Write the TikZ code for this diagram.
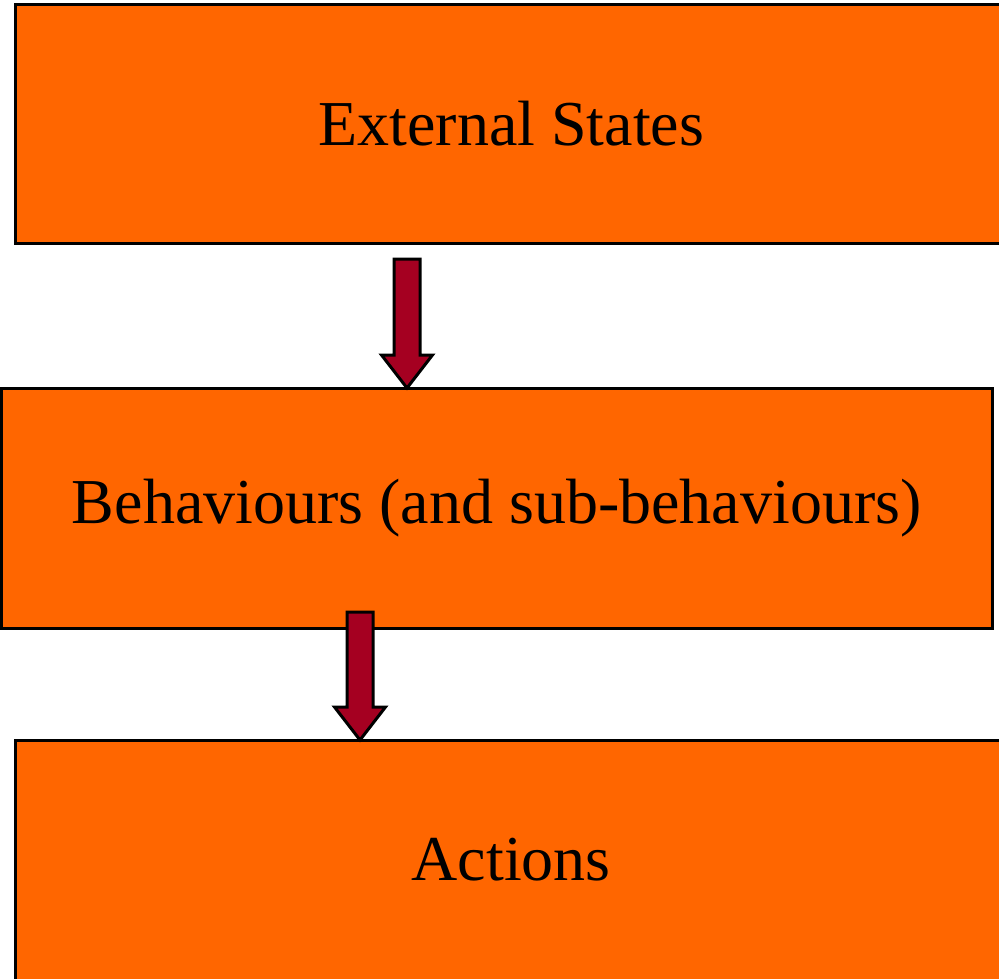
\documentclass[tikz,border=0pt]{standalone}
\usepackage{fontspec}
\setmainfont{Liberation Serif}
\usetikzlibrary{calc}
\definecolor{boxorange}{HTML}{FF6600}
\definecolor{arrowred}{HTML}{A50021}
\begin{document}
\begin{tikzpicture}[x=1pt,y=1pt,
  stagebox/.style={draw=black, fill=boxorange, line width=3pt, outer sep=0pt,
    inner sep=0pt, anchor=north west, font=\fontsize{64}{72}\selectfont},
  blockarrow/.style={draw=black, fill=arrowred, line width=3pt, line join=miter,
    to path={
      ($(\tikztostart)+(-13,0)$) -- ($(\tikztostart)+(13,0)$)
      -- ($(\tikztotarget)+(13,33)$) -- ($(\tikztotarget)+(25.5,33)$)
      -- (\tikztotarget) -- ($(\tikztotarget)+(-25.5,33)$)
      -- ($(\tikztotarget)+(-13,33)$) -- cycle}}]
\useasboundingbox (0,0) rectangle (999,-978);
\clip (0,0) rectangle (999,-978);

% the three stages
\node[stagebox, minimum width=991.5, minimum height=239] (ext) at (15.5,-4) {External States};
\node[stagebox, minimum width=990.5, minimum height=240] (beh) at (1.5,-388) {Behaviours (and sub-behaviours)};
\node[stagebox, minimum width=991.5, minimum height=240] (act) at (15.5,-740) {Actions};

% block arrows between the stages
\coordinate (a1) at (407,-259);
\coordinate (a2) at (360,-612);
\draw[blockarrow] (a1) to (beh.north -| a1);
\draw[blockarrow] (a2) to (act.north -| a2);
\end{tikzpicture}
\end{document}
